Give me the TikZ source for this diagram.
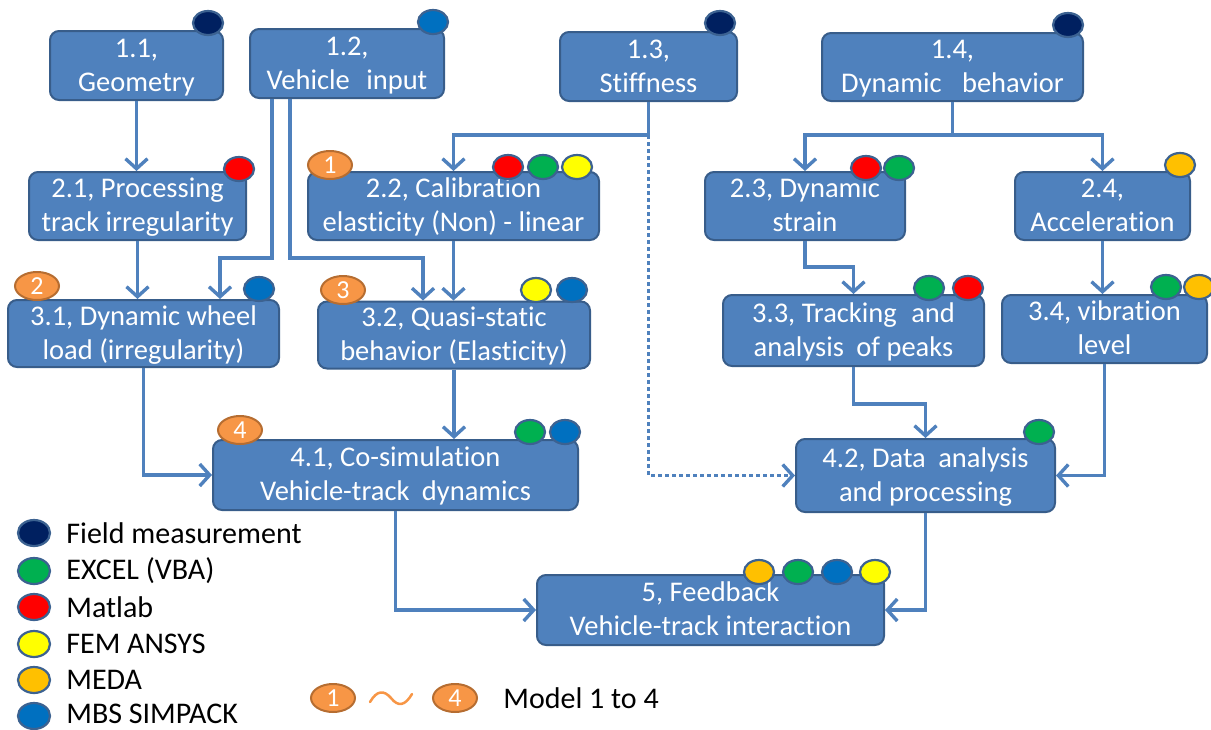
\documentclass[tikz,border=0pt]{standalone}
\usepackage{fontspec}
\setmainfont[Ligatures={NoCommon}]{Carlito}
\usetikzlibrary{arrows.meta,shapes.geometric}

\definecolor{boxfill}{RGB}{79,129,189}
\definecolor{boxline}{RGB}{56,93,138}
\definecolor{linkblue}{RGB}{79,129,189}
\definecolor{dotline}{RGB}{60,98,145}
\definecolor{cnavy}{RGB}{0,32,96}
\definecolor{cgreen}{RGB}{0,176,80}
\definecolor{cred}{RGB}{255,0,0}
\definecolor{cyellow}{RGB}{255,255,0}
\definecolor{cgold}{RGB}{255,192,0}
\definecolor{cblue}{RGB}{0,112,192}
\definecolor{corange}{RGB}{247,150,70}
\definecolor{corangeline}{RGB}{182,109,49}

\tikzset{every picture/.style={line width=0.75pt}}

\begin{document}
\begin{tikzpicture}[x=1pt,y=1pt,yscale=-1,
  blk/.style={draw=boxline,fill=boxfill,line width=2pt,rounded corners=9pt,text=white,align=center,inner sep=0pt,font=\fontsize{28.5}{34}\selectfont,
    execute at begin node=\rule{0pt}{59pt},execute at end node=\rule[-8pt]{0pt}{0pt}},
  arr/.style={draw=linkblue,line width=3.4pt,-{Straight Barb[length=10pt,width=22pt]}},
  lnk/.style={draw=linkblue,line width=3.4pt},
  tool/.style={ellipse,draw=dotline,line width=2.2pt,minimum width=30pt,minimum height=24pt,inner sep=0pt},
  model/.style={ellipse,draw=corangeline,fill=corange,line width=2pt,minimum width=44pt,minimum height=28pt,inner sep=0pt,text=white,font=\fontsize{26}{26}\selectfont},
  keytool/.style={tool,minimum width=32pt,minimum height=26pt},
  keytext/.style={anchor=west,inner sep=0pt,font=\fontsize{30}{34}\selectfont}]
\useasboundingbox (0,0) rectangle (1211,729);

%Rounded Rect: level 1
\node[blk,minimum width=173pt,minimum height=69pt] (geo11) at (136.5,65.5) {1.1,\\Geometry};
\node[blk,minimum width=194pt,minimum height=69pt] (veh12) at (347,63.5) {1.2,\\Vehicle\hspace{10pt} input};
\node[blk,minimum width=177pt,minimum height=69pt] (stf13) at (648.5,66.5) {1.3,\\Stiffness};
\node[blk,minimum width=261pt,minimum height=68pt] (dyn14) at (952.5,67) {1.4,\\Dynamic\hspace{14pt} behavior};
%Rounded Rect: level 2
\node[blk,minimum width=217pt,minimum height=68pt] (trk21) at (137.5,206) {2.1, Processing\\track irregularity};
\node[blk,minimum width=291pt,minimum height=68pt] (cal22) at (453.5,206) {2.2, Calibration\\elasticity (Non) - linear};
\node[blk,minimum width=200pt,minimum height=68pt] (str23) at (805,206) {2.3, Dynamic\\strain};
\node[blk,minimum width=175pt,minimum height=68pt] (acc24) at (1102.5,206) {2.4,\\Acceleration};
%Rounded Rect: level 3
\node[blk,minimum width=271pt,minimum height=67pt] (whl31) at (143.5,333.5) {3.1, Dynamic wheel\\load (irregularity)};
\node[blk,minimum width=272pt,minimum height=66pt] (qst32) at (454,335) {3.2, Quasi-static\\behavior (Elasticity)};
\node[blk,minimum width=261pt,minimum height=71pt] (pks33) at (853.5,330.5) {3.3, Tracking\hspace{8pt} and\\analysis\hspace{6pt} of peaks};
\node[blk,minimum width=205pt,minimum height=68pt] (vib34) at (1104.5,329) {3.4, vibration\\level};
%Rounded Rect: level 4 and 5
\node[blk,minimum width=365pt,minimum height=70pt] (cos41) at (395.5,475) {4.1, Co-simulation\\Vehicle-track\hspace{6pt} dynamics};
\node[blk,minimum width=259pt,minimum height=73pt] (dat42) at (925.5,475.5) {4.2, Data\hspace{6pt} analysis\\and processing};
\node[blk,minimum width=347pt,minimum height=70pt] (fbk5) at (710.5,610) {5, Feedback\\Vehicle-track interaction};

%Straight Lines
\draw[arr] (geo11.south) -- (geo11.south |- trk21.north);
\draw[arr] (trk21.south) -- (trk21.south |- whl31.north);
\draw[arr] (cal22.south) -- (cal22.south |- qst32.north);
\draw[arr] (acc24.south) -- (acc24.south |- vib34.north);
\draw[arr] (qst32.south) -- (qst32.south |- cos41.north);
%Elbow Lines: vehicle input
\coordinate (k12a) at (272,258);
\coordinate (k12b) at (290,258);
\draw[arr] (veh12.south -| k12a) -- (k12a) -| ([xshift=76.5pt]whl31.north);
\draw[arr] (veh12.south -| k12b) -- (k12b) -| ([xshift=-31pt]qst32.north);
%Elbow Lines: stiffness
\coordinate (k13) at (648.5,135);
\draw[lnk] (stf13.south) -- (k13);
\draw[arr] (k13) -| (cal22.north);
\draw[arr,dash pattern=on 3.5pt off 3.5pt] (k13) |- (dat42.west);
%Elbow Lines: dynamic behavior
\coordinate (k14) at (952.5,135);
\draw[lnk] (dyn14.south) -- (k14);
\draw[arr] (k14) -| (str23.north);
\draw[arr] (k14) -| (acc24.north);
\draw[arr] (str23.south) -- ++(0,26) -| (pks33.north);
\draw[arr] (pks33.south) -- ++(0,37) -| (dat42.north);
\draw[arr] (vib34.south) |- (dat42.east);
\draw[arr] (whl31.south) |- (cos41.west);
\draw[arr] (cos41.south) |- (fbk5.west);
\draw[arr] (dat42.south) |- (fbk5.east);

%Ellipse: tools
\node[tool,fill=cnavy] (t11) at (208,23) {};
\node[tool,fill=cblue] (t12) at (433,22) {};
\node[tool,fill=cnavy] (t13) at (720,23) {};
\node[tool,fill=cnavy] (t14) at (1068,25) {};
\node[tool,fill=cred] (t21) at (239,169) {};
\node[tool,fill=cred] (t22a) at (508,167) {};
\node[tool,fill=cgreen] (t22b) at (543,167) {};
\node[tool,fill=cyellow] (t22c) at (577,167) {};
\node[tool,fill=cred] (t23a) at (866,168) {};
\node[tool,fill=cgreen] (t23b) at (899,168) {};
\node[tool,fill=cgold] (t24) at (1180,165) {};
\node[tool,fill=cblue] (t31) at (259,289) {};
\node[tool,fill=cyellow] (t32a) at (536,290) {};
\node[tool,fill=cblue] (t32b) at (572,290) {};
\node[tool,fill=cgreen] (t33a) at (929,288) {};
\node[tool,fill=cred] (t33b) at (968,288) {};
\node[tool,fill=cgreen] (t34a) at (1166,287) {};
\node[tool,fill=cgold] (t34b) at (1199,287) {};
\node[tool,fill=cgreen] (t41a) at (530,432) {};
\node[tool,fill=cblue] (t41b) at (565,432) {};
\node[tool,fill=cgreen] (t42) at (1039,432) {};
\node[tool,fill=cgold] (t5a) at (759,572) {};
\node[tool,fill=cgreen] (t5b) at (798,572) {};
\node[tool,fill=cblue] (t5c) at (837,572) {};
\node[tool,fill=cyellow] (t5d) at (875,572) {};

%Ellipse: models
\node[model] (m1) at (330,165) {1};
\node[model] (m2) at (37,286) {2};
\node[model] (m3) at (343,290) {3};
\node[model] (m4) at (240,430) {4};

%Legend
\node[keytool,fill=cnavy] (k1) at (34,533) {};
\node[keytool,fill=cgreen] (k2) at (34,571) {};
\node[keytool,fill=cred] (k3) at (34,607) {};
\node[keytool,fill=cyellow] (k4) at (34,644) {};
\node[keytool,fill=cgold] (k5) at (34,680) {};
\node[keytool,fill=cblue] (k6) at (34,716) {};
\node[keytext] (kt1) at (66,533) {Field measurement};
\node[keytext] (kt2) at (66,571) {EXCEL (VBA)};
\node[keytext] (kt3) at (66,607) {Matlab};
\node[keytext] (kt4) at (66,644) {FEM ANSYS};
\node[keytext] (kt5) at (66,680) {MEDA};
\node[keytext] (kt6) at (66,714) {MBS SIMPACK};
\node[model] (km1) at (333,698) {1};
\node[model] (km4) at (455,698) {4};
%Curve Lines
\draw[corange,line width=2.5pt,line cap=round] (370,702) .. controls (377,690) and (384,690) .. (391,698) .. controls (398,707) and (405,706) .. (412,694);
\node[keytext] (kt7) at (503,698) {Model 1 to 4};

\end{tikzpicture}
\end{document}
